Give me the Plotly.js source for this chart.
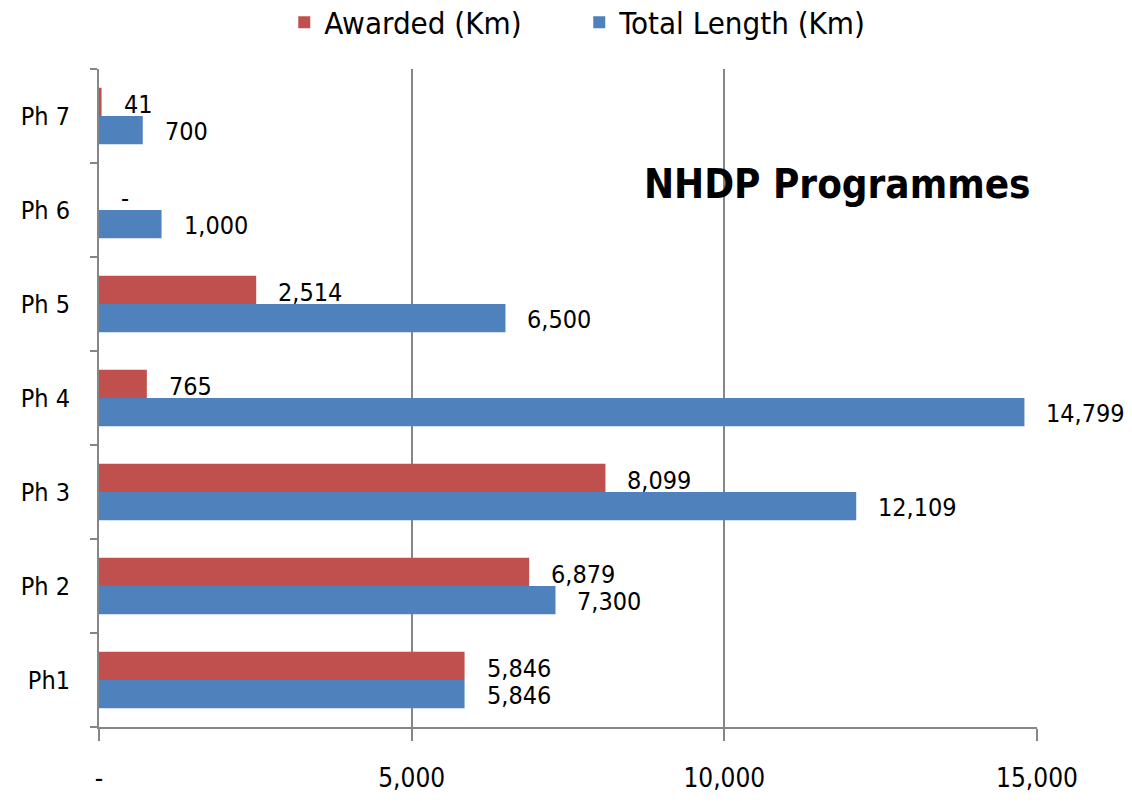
<!DOCTYPE html>
<html>
<head>
<meta charset="utf-8">
<script src="https://cdn.plot.ly/plotly-3.0.1.min.js"></script>
<style>html,body{margin:0;padding:0;background:#fff;}#chart{width:1132px;height:806px;}</style>
</head>
<body>
<div id="chart"></div>
<script>
const categories = ['Ph1', 'Ph 2', 'Ph 3', 'Ph 4', 'Ph 5', 'Ph 6', 'Ph 7'];
const awarded = [5846, 6879, 8099, 765, 2514, 0, 41];
const totalLength = [5846, 7300, 12109, 14799, 6500, 1000, 700];
const xTickVals = [0, 5000, 10000, 15000];
const xTickText = ['-', '5,000', '10,000', '15,000'];
const seriesNames = ['Awarded (Km)', 'Total Length (Km)'];
const chartTitle = 'NHDP Programmes';

const FONT = 'Liberation Sans Narrow, DejaVu Sans Condensed, Liberation Sans, sans-serif';
const fmt = v => v === 0 ? '-' : v.toLocaleString('en-US');

const traces = [
  {type: 'bar', orientation: 'h', name: seriesNames[1], y: categories, x: totalLength,
   marker: {color: '#4F81BD'}, hoverinfo: 'x'},
  {type: 'bar', orientation: 'h', name: seriesNames[0], y: categories, x: awarded,
   marker: {color: '#C0504D'}, hoverinfo: 'x'}
];

const annotations = [];
categories.forEach((c, i) => {
  annotations.push({x: awarded[i], y: c, xref: 'x', yref: 'y', text: fmt(awarded[i]),
    showarrow: false, xanchor: 'left', yanchor: 'middle', xshift: 20, yshift: 12,
    font: {family: FONT, size: 25, color: '#000'}});
  annotations.push({x: totalLength[i], y: c, xref: 'x', yref: 'y', text: fmt(totalLength[i]),
    showarrow: false, xanchor: 'left', yanchor: 'middle', xshift: 20, yshift: -15,
    font: {family: FONT, size: 25, color: '#000'}});
});
annotations.push({x: 0.995, y: 0.825, xref: 'paper', yref: 'paper', text: '<b>' + chartTitle + '</b>',
  showarrow: false, xanchor: 'right', yanchor: 'middle',
  font: {family: FONT, size: 40, color: '#000'}});

const layout = {
  width: 1132, height: 806,
  margin: {l: 99, r: 95, t: 69, b: 79},
  paper_bgcolor: '#fff', plot_bgcolor: '#fff',
  barmode: 'group', bargap: 0.4, bargroupgap: 0,
  font: {family: FONT, size: 22, color: '#000'},
  showlegend: true,
  legend: {orientation: 'h', x: 0.512, xanchor: 'center', y: 0.972, yref: 'container', yanchor: 'middle',
    traceorder: 'reversed', font: {family: FONT, size: 31, color: '#000'}, itemwidth: 30,
    entrywidth: 250, entrywidthmode: 'pixels'},
  xaxis: {range: [0, 15000], tickvals: xTickVals, ticktext: xTickText,
    showgrid: true, gridcolor: '#868686', gridwidth: 2,
    showline: true, linecolor: '#868686', linewidth: 2,
    ticks: 'outside', ticklen: 12, tickcolor: '#868686', tickwidth: 2,
    ticklabelstandoff: 15, zeroline: false, fixedrange: true,
    tickfont: {family: FONT, size: 26, color: '#000'}},
  yaxis: {type: 'category', categoryorder: 'array', categoryarray: categories,
    showgrid: false, showline: true, linecolor: '#868686', linewidth: 2,
    ticks: 'outside', tickson: 'boundaries', ticklen: 7, tickcolor: '#868686', tickwidth: 2,
    ticklabelstandoff: 22, fixedrange: true,
    tickfont: {family: FONT, size: 25, color: '#000'}},
  annotations: annotations
};

Plotly.newPlot('chart', traces, layout, {displayModeBar: false, staticPlot: true});
</script>
</body>
</html>
